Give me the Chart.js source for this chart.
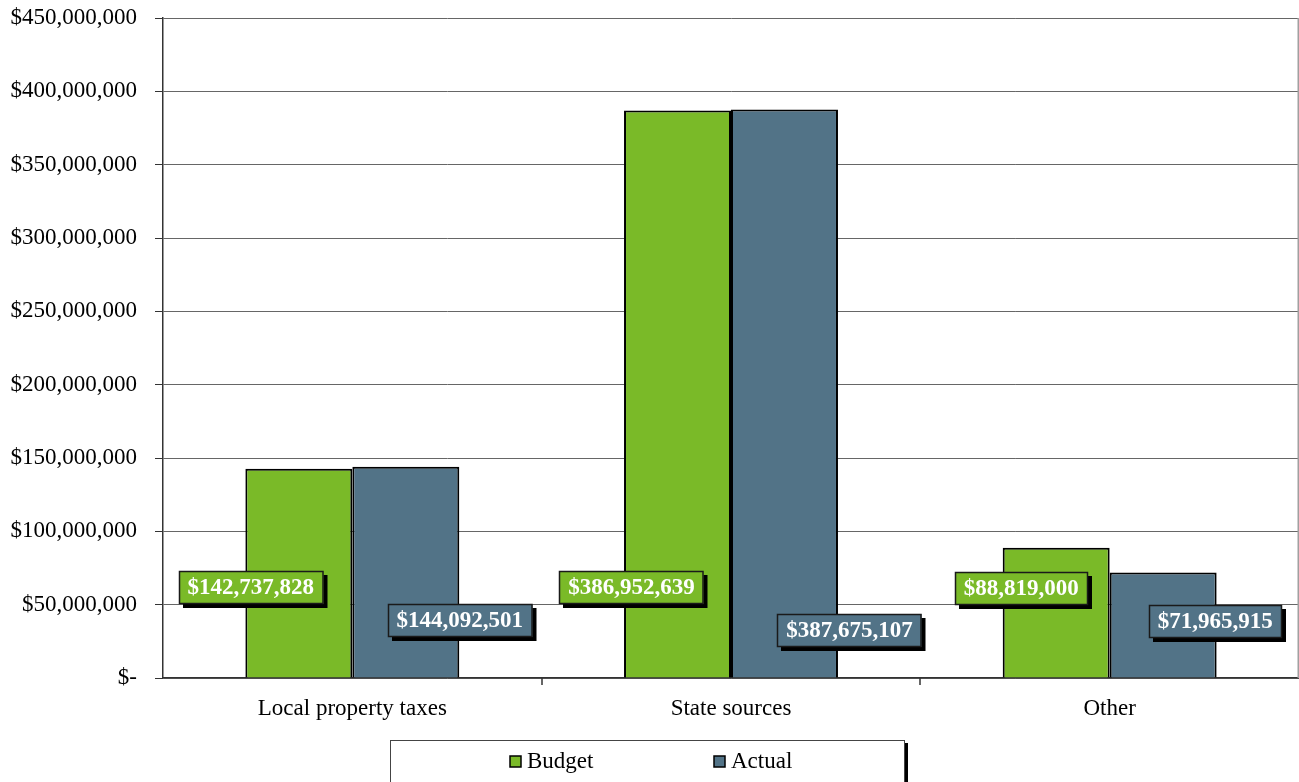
<!DOCTYPE html>
<html>
<head>
<meta charset="utf-8">
<script src="https://cdn.jsdelivr.net/npm/chart.js@4.4.1/dist/chart.umd.min.js"></script>
<style>
  html, body { margin: 0; padding: 0; background: #fff; }
  #wrap { width: 1299px; height: 782px; }
</style>
</head>
<body>
<div id="wrap"><canvas id="revChart" width="1299" height="782"></canvas></div>
<script>
const categories = ["Local property taxes", "State sources", "Other"];
const budget = [142737828, 386952639, 88819000];
const actual = [144092501, 387675107, 71965915];
const seriesNames = ["Budget", "Actual"];

const GREEN = "#7aba28";
const BLUE = "#527387";
const SERIF = "'Liberation Serif', 'Times New Roman', serif";

function money(v) {
  if (v === 0) return "$-";
  return "$" + v.toLocaleString("en-US");
}

// boxed value labels with a drop shadow, placed beside each bar
const valueBoxes = {
  id: "valueBoxes",
  afterDatasetsDraw(chart, args, opts) {
    const ctx = chart.ctx;
    const base = chart.chartArea.bottom;
    ctx.save();
    ctx.font = "bold 23px " + SERIF;
    ctx.textAlign = "center";
    ctx.textBaseline = "middle";
    chart.data.datasets.forEach((ds, di) => {
      chart.getDatasetMeta(di).data.forEach((bar, i) => {
        const text = money(ds.data[i]);
        const w = ctx.measureText(text).width + 18;
        const h = 33;
        const cx = bar.x + opts.dx[di][i];
        const cy = base + opts.dy[di][i];
        const x = Math.round(cx - w / 2), y = Math.round(cy - h / 2);
        ctx.fillStyle = "#000";
        ctx.fillRect(x + 4, y + 4, w, h);
        ctx.fillStyle = ds.backgroundColor;
        ctx.fillRect(x, y, w, h);
        ctx.strokeStyle = "#1a1a1a";
        ctx.lineWidth = 1.5;
        ctx.strokeRect(x + 0.5, y + 0.5, w - 1, h - 1);
        ctx.fillStyle = "#fff";
        ctx.fillText(text, cx, cy + 1);
      });
    });
    ctx.restore();
  }
};

// framed legend below the axis, plus category separators and right border
const frame = {
  id: "frame",
  afterDraw(chart) {
    const ctx = chart.ctx;
    const a = chart.chartArea;
    const xs = chart.scales.x;
    ctx.save();
    ctx.strokeStyle = "#a0a0a0";
    ctx.lineWidth = 1.5;
    ctx.beginPath();
    ctx.moveTo(a.right - 0.75, a.top);
    ctx.lineTo(a.right - 0.75, a.bottom);
    ctx.stroke();

    ctx.strokeStyle = "#333";
    ctx.lineWidth = 1.5;
    for (let i = 1; i < categories.length; i++) {
      const px = Math.round((xs.getPixelForValue(i - 1) + xs.getPixelForValue(i)) / 2);
      ctx.beginPath();
      ctx.moveTo(px, a.bottom);
      ctx.lineTo(px, a.bottom + 7);
      ctx.stroke();
    }

    const lx = 390, ly = 740, lw = 515, lh = 44;
    ctx.fillStyle = "#000";
    ctx.fillRect(lx + lw, ly + 3, 3, lh);
    ctx.fillStyle = "#fff";
    ctx.fillRect(lx, ly, lw, lh);
    ctx.strokeStyle = "#444";
    ctx.lineWidth = 1;
    ctx.strokeRect(lx + 0.5, ly + 0.5, lw - 1, lh);

    ctx.font = "23px " + SERIF;
    ctx.textBaseline = "middle";
    ctx.textAlign = "left";
    const items = [[510, GREEN], [714, BLUE]];
    chart.data.datasets.forEach((ds, i) => {
      const [bx, col] = items[i];
      const by = 756;
      ctx.fillStyle = col;
      ctx.fillRect(bx, by, 11, 11);
      ctx.strokeStyle = "#000";
      ctx.lineWidth = 1.5;
      ctx.strokeRect(bx, by, 11, 11);
      ctx.fillStyle = "#000";
      ctx.fillText(ds.label, bx + 17, by + 6);
    });
    ctx.restore();
  }
};

new Chart(document.getElementById("revChart"), {
  type: "bar",
  data: {
    labels: categories,
    datasets: [
      { label: seriesNames[0], data: budget, backgroundColor: GREEN, borderColor: "#000", borderWidth: 2 },
      { label: seriesNames[1], data: actual, backgroundColor: BLUE, borderColor: "#000", borderWidth: 2 }
    ]
  },
  options: {
    responsive: false,
    animation: false,
    devicePixelRatio: 1,
    layout: { padding: { top: 18, right: 0, left: 0, bottom: 0 } },
    datasets: { bar: { categoryPercentage: 0.565, barPercentage: 1.0 } },
    plugins: {
      legend: { display: false },
      tooltip: { enabled: false },
      valueBoxes: {
        dx: [[-48, -46, -35], [54, 65, 52]],
        dy: [[-91, -91, -90], [-58, -48, -57]]
      }
    },
    scales: {
      x: {
        afterFit: s => { s.height = 104; s.paddingLeft = 0; s.paddingRight = 0; },
        grid: { display: false, drawTicks: false },
        border: { color: "#333", width: 1.5 },
        ticks: { color: "#000", font: { family: SERIF, size: 23 }, padding: 17 }
      },
      y: {
        min: 0,
        max: 450000000,
        afterFit: s => { s.width = 163; s.paddingTop = 0; s.paddingBottom = 0; },
        grid: { color: "#666", lineWidth: 1, tickLength: 8, tickColor: "#333" },
        border: { color: "#333", width: 1.5 },
        ticks: {
          stepSize: 50000000,
          color: "#000",
          padding: 18,
          font: { family: SERIF, size: 23 },
          callback: v => money(v)
        }
      }
    }
  },
  plugins: [valueBoxes, frame]
});
</script>
</body>
</html>
